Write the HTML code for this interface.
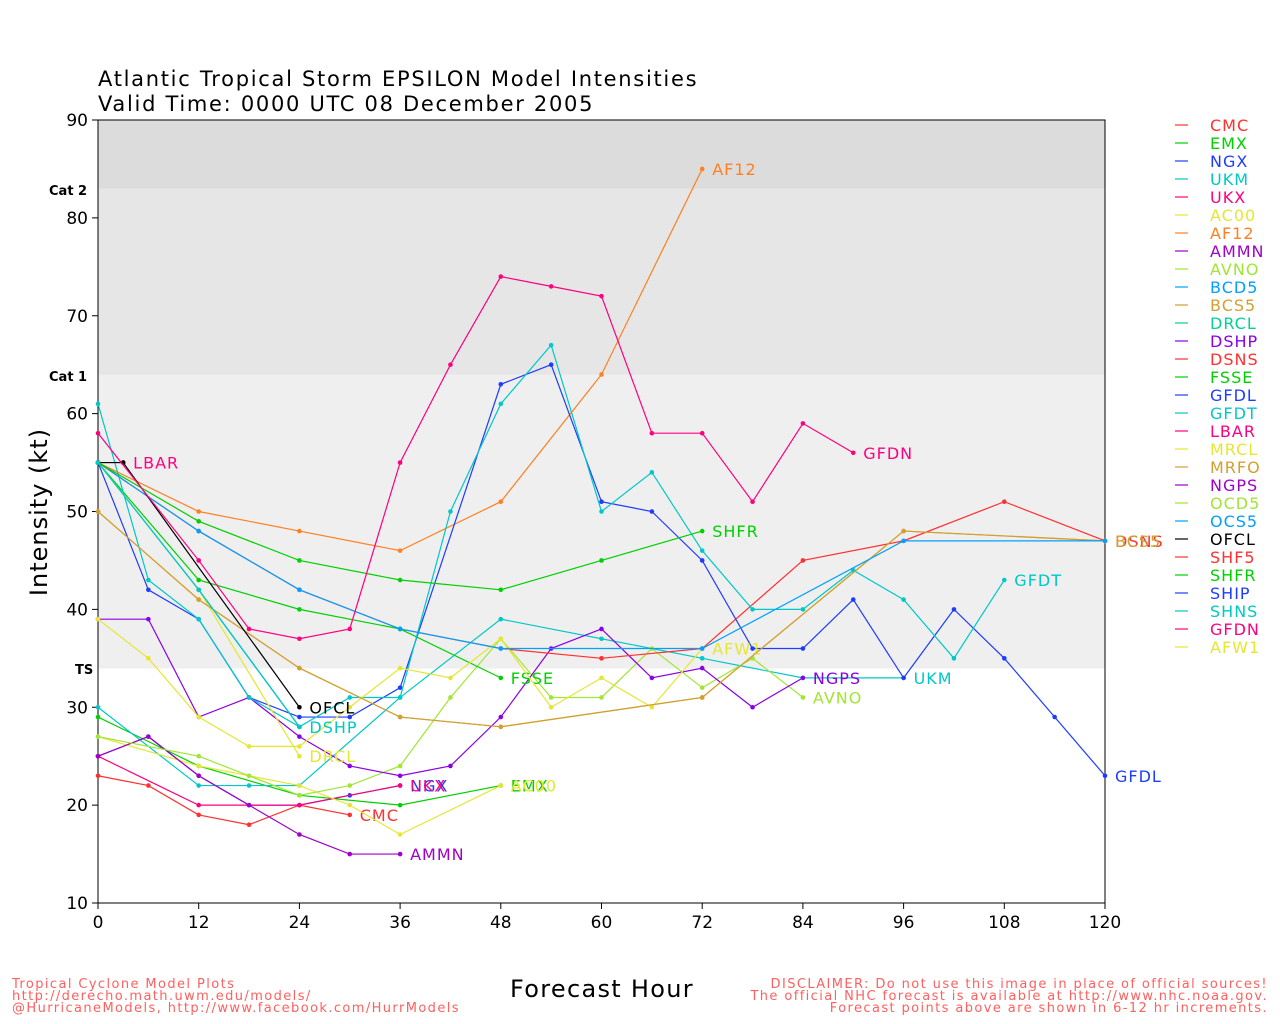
<!DOCTYPE html>
<html><head><meta charset="utf-8"><style>
body{margin:0;background:#fff;}
svg{display:block;font-family:"DejaVu Sans","Liberation Sans",sans-serif;}
</style></head><body>
<svg id="s" width="1280" height="1024" xmlns="http://www.w3.org/2000/svg">
<rect x="98" y="120" width="1007" height="68.5" fill="#dcdcdc"/>
<rect x="98" y="188.5" width="1007" height="186" fill="#e6e6e6"/>
<rect x="98" y="374.5" width="1007" height="294" fill="#efefef"/>
<rect x="98" y="120" width="1007" height="783" fill="none" stroke="#000" stroke-width="1"/>
<text x="98" y="86" font-size="21" letter-spacing="1.7">Atlantic Tropical Storm EPSILON Model Intensities</text>
<text x="98" y="111" font-size="21" letter-spacing="1.7">Valid Time: 0000 UTC 08 December 2005</text>
<text x="49" y="195" font-size="13" font-weight="bold">Cat 2</text>
<text x="49" y="381" font-size="13" font-weight="bold">Cat 1</text>
<text x="75" y="674" font-size="13" font-weight="bold">TS</text>
<text transform="translate(47,512) rotate(-90)" text-anchor="middle" font-size="24" letter-spacing="1">Intensity (kt)</text>
<text x="602" y="997" text-anchor="middle" font-size="24" letter-spacing="1.3">Forecast Hour</text>
<g font-size="13" fill="#ff6060" letter-spacing="1.4">
<text x="12" y="988">Tropical Cyclone Model Plots</text>
<text x="12" y="1000">http://derecho.math.uwm.edu/models/</text>
<text x="12" y="1012">@HurricaneModels, http://www.facebook.com/HurrModels</text>
<text x="1268" y="988" text-anchor="end">DISCLAIMER: Do not use this image in place of official sources!</text>
<text x="1268" y="1000" text-anchor="end">The official NHC forecast is available at http://www.nhc.noaa.gov.</text>
<text x="1268" y="1012" text-anchor="end">Forecast points above are shown in 6-12 hr increments.</text>
</g>
<g id="ax"></g><g id="ser"></g><g id="leg"></g>
</svg>
<script>
const X=h=>98+h*1007/120, Y=v=>120+(90-v)*9.7875;
const ns="http://www.w3.org/2000/svg";
function el(p,t,a,txt){const e=document.createElementNS(ns,t);for(const k in a)e.setAttribute(k,a[k]);if(txt!=null)e.textContent=txt;p.appendChild(e);return e;}
const ax=document.getElementById('ax');
for(let v=10;v<=90;v+=10){el(ax,'line',{x1:92,x2:98,y1:Y(v),y2:Y(v),stroke:'#000'});el(ax,'text',{x:88,y:Y(v)+6,'text-anchor':'end','font-size':17},v);}
for(let h=0;h<=120;h+=12){el(ax,'line',{x1:X(h),x2:X(h),y1:903,y2:909,stroke:'#000'});el(ax,'text',{x:X(h),y:928,'text-anchor':'middle','font-size':17},h);}
const S=[
['CMC','#ff3030',[[0,23],[6,22],[12,19],[18,18],[24,20],[30,19]]],
['EMX','#00d000',[[0,29],[12,24],[24,21],[36,20],[48,22]]],
['NGX','#1e3cff',[[0,25],[6,27],[12,23],[18,20],[24,20],[30,21],[36,22]]],
['UKM','#00c8c8',[[0,30],[12,22],[18,22],[24,22],[36,31],[48,39],[60,37],[72,35],[84,33],[96,33]]],
['UKX','#ff0080',[[0,25],[12,20],[24,20],[36,22]]],
['AC00','#e6e632',[[0,27],[12,24],[24,22],[30,20],[36,17],[48,22]]],
['AF12','#ff8020',[[0,55],[12,50],[24,48],[36,46],[48,51],[60,64],[72,85]]],
['AMMN','#a000c8',[[0,25],[6,27],[12,23],[18,20],[24,17],[30,15],[36,15]]],
['AVNO','#a0e632',[[0,27],[12,25],[18,23],[24,21],[30,22],[36,24],[42,31],[48,37],[54,31],[60,31],[66,36],[72,32],[78,35],[84,31]]],
['BCD5','#00a0ff',[[0,55],[12,42],[24,28]],1],
['BCS5','#d2a030',[[0,50],[12,41],[24,34],[36,29],[48,28],[72,31],[96,48],[120,47]],1],
['DRCL','#00d296',[[0,55],[12,42],[24,28]],1],
['DSHP','#8c00e6',[[0,39],[6,39],[12,29],[18,31],[24,27],[30,24],[36,23],[42,24],[48,29],[54,36],[60,38],[66,33],[72,34],[78,30],[84,33]],0,'NGPS'],
['DSNS','#ff3030',[[0,55],[12,48],[24,42],[36,38],[48,36],[60,35],[72,36],[84,45],[96,47],[108,51],[120,47]],0,'DSNS'],
['FSSE','#00d000',[[0,55],[12,43],[24,40],[36,38],[48,33]]],
['GFDL','#1e3cff',[[0,55],[6,42],[12,39],[18,31],[24,29],[30,29],[36,32],[48,63],[54,65],[60,51],[66,50],[72,45],[78,36],[84,36],[90,41],[96,33],[102,40],[108,35],[114,29],[120,23]]],
['GFDT','#00c8c8',[[0,61],[6,43],[12,39],[18,31],[24,28],[30,31],[36,31],[42,50],[48,61],[54,67],[60,50],[66,54],[72,46],[78,40],[84,40],[90,44],[96,41],[102,35],[108,43]]],
['LBAR','#ff0080',[[0,55],[3,55]]],
['MRCL','#e6e632',[[0,39],[6,35],[12,29],[18,26],[24,26],[30,30],[36,34],[42,33],[48,37],[54,30],[60,33],[66,30],[72,36]],0,'AFW1'],
['DRCL2','#e6e632',[[0,55],[12,42],[24,25]],0,'DRCL'],
['MRFO','#d2a030',[[0,50],[12,41],[24,34],[36,29],[48,28],[72,31],[96,48],[120,47]],1],
['OCS5','#00a0ff',[[0,55],[12,48],[24,42],[36,38],[48,36],[72,36],[96,47],[120,47]],1],
['OFCL','#000000',[[0,55],[3,55],[24,30]]],
['SHFR','#00d000',[[0,55],[12,49],[24,45],[36,43],[48,42],[60,45],[72,48]]],
['SHNS','#00c8c8',[[0,55],[12,42],[24,28]],0,'DSHP'],
['GFDN','#ff0080',[[0,58],[12,45],[18,38],[24,37],[30,38],[36,55],[42,65],[48,74],[54,73],[60,72],[66,58],[72,58],[78,51],[84,59],[90,56]]],
];
const g=document.getElementById('ser');
S.forEach(s=>{const pts=s[2];
el(g,'polyline',{points:pts.map(p=>X(p[0])+','+Y(p[1])).join(' '),fill:'none',stroke:s[1],'stroke-width':1.2});
pts.forEach(p=>el(g,'circle',{cx:X(p[0]),cy:Y(p[1]),r:2.3,fill:s[1]}));
if(!s[3]){const l=pts[pts.length-1];let lab=s[4]||s[0];
el(g,'text',{x:X(l[0])+10,y:Y(l[1])+6,'font-size':16,fill:s[1],'letter-spacing':1},lab);}
});
el(g,'text',{x:X(120)+10,y:Y(47)+6,'font-size':16,fill:'#d2a030','letter-spacing':1},'BCS5');
const L=[['CMC','#ff3030'],['EMX','#00d000'],['NGX','#1e3cff'],['UKM','#00c8c8'],['UKX','#ff0080'],['AC00','#e6e632'],['AF12','#ff8020'],['AMMN','#a000c8'],['AVNO','#a0e632'],['BCD5','#00a0ff'],['BCS5','#d2a030'],['DRCL','#00d296'],['DSHP','#8c00e6'],['DSNS','#ff3030'],['FSSE','#00d000'],['GFDL','#1e3cff'],['GFDT','#00c8c8'],['LBAR','#ff0080'],['MRCL','#e6e632'],['MRFO','#d2a030'],['NGPS','#a000c8'],['OCD5','#a0e632'],['OCS5','#00a0ff'],['OFCL','#000000'],['SHF5','#ff3030'],['SHFR','#00d000'],['SHIP','#1e3cff'],['SHNS','#00c8c8'],['GFDN','#ff0080'],['AFW1','#e6e632']];
const lg=document.getElementById('leg');
L.forEach((l,i)=>{const y=125+i*18;el(lg,'line',{x1:1175,x2:1188,y1:y,y2:y,stroke:l[1],'stroke-width':1.2});el(lg,'text',{x:1210,y:y+6,'font-size':16,fill:l[1],'letter-spacing':1},l[0]);});
</script>
</body></html>
